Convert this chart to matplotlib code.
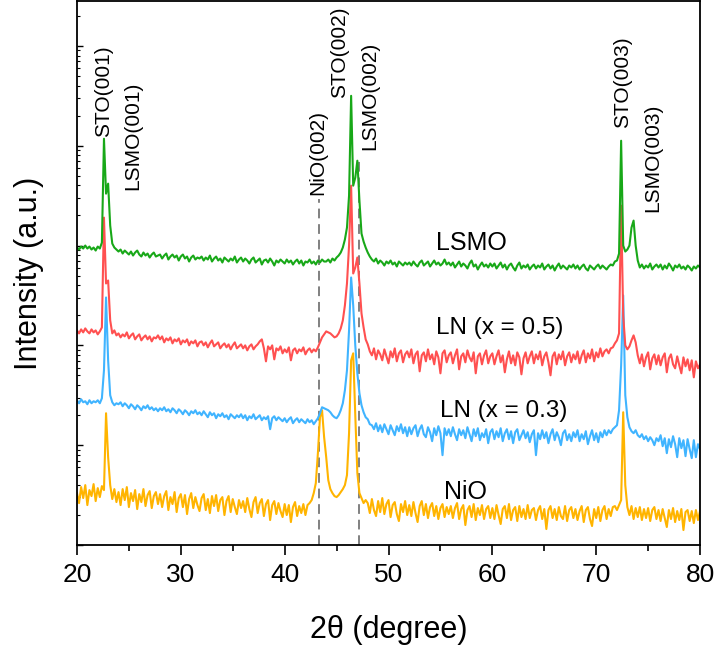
import numpy as np
import matplotlib.pyplot as plt
from matplotlib.ticker import MultipleLocator, LogLocator, NullFormatter

plt.rcParams['font.family'] = ['Liberation Sans', 'DejaVu Sans']

# 2theta grid (degree), 0.2 deg steps
two_theta = np.round(np.arange(20.0, 80.01, 0.2), 1)

# intensities, stored as log10(I) * 100 (stacked offsets included)
lsmo = [
    298, 296, 299, 297, 300, 297, 299, 296, 298, 295, 299, 297, 303, 407, 352, 362, 320, 302, 298, 296,
    294, 296, 292, 295, 293, 291, 294, 290, 293, 295, 291, 289, 293, 290, 292, 288, 291, 293, 289, 290,
    291, 287, 290, 292, 286, 289, 291, 288, 290, 285, 289, 291, 287, 289, 284, 288, 290, 286, 288, 287,
    289, 285, 288, 286, 290, 284, 287, 289, 285, 287, 283, 288, 286, 284, 287, 285, 289, 283, 286, 288,
    284, 287, 285, 282, 286, 288, 283, 285, 287, 281, 285, 286, 283, 287, 284, 280, 285, 283, 286, 284,
    282, 286, 283, 285, 281, 284, 286, 282, 285, 280, 284, 283, 286, 282, 284, 281, 285, 283, 286, 284,
    284, 286, 283, 287, 285, 288, 290, 293, 298, 306, 318, 350, 450, 360, 368, 385, 345, 312, 304, 298,
    293, 289, 286, 284, 287, 282, 285, 283, 280, 284, 282, 285, 281, 283, 279, 284, 282, 280, 283, 281,
    283, 280, 284, 281, 279, 283, 285, 280, 282, 284, 279, 282, 285, 281, 283, 280, 282, 286, 281, 283,
    280, 283, 278, 281, 284, 279, 282, 280, 277, 282, 285, 279, 281, 276, 280, 283, 279, 281, 278, 282,
    279, 282, 277, 280, 283, 278, 281, 276, 280, 282, 278, 275, 280, 283, 277, 280, 278, 281, 276, 279,
    281, 277, 280, 278, 282, 276, 279, 281, 277, 280, 275, 279, 282, 277, 280, 278, 276, 280, 278, 281,
    277, 280, 276, 279, 281, 277, 275, 280, 278, 276, 279, 281, 277, 280, 278, 276, 279, 281, 280, 284,
    285, 292, 405, 300, 294, 296, 300, 318, 325, 300, 285, 278, 281, 277, 280, 278, 282, 276, 279, 281,
    278, 281, 276, 280, 277, 282, 279, 275, 280, 278, 281, 277, 279, 276, 280, 278, 275, 279, 277, 280,
    278,
]
ln05 = [
    215, 212, 216, 213, 217, 214, 212, 216, 213, 215, 211, 214, 218, 328, 262, 265, 225, 212, 215, 210,
    212, 208, 211, 209, 213, 207, 210, 212, 206, 209, 211, 205, 208, 210, 206, 209, 204, 208, 207, 210,
    206, 209, 203, 207, 205, 208, 202, 206, 204, 207, 201, 205, 203, 206, 200, 204, 202, 205, 199, 203,
    204, 200, 203, 198, 202, 205, 199, 201, 203, 197, 200, 202, 198, 201, 196, 200, 203, 197, 199, 201,
    197, 200, 195, 199, 201, 196, 199, 201, 204, 206, 197, 184, 199, 196, 200, 186, 197, 195, 199, 192,
    196, 193, 198, 185, 195, 197, 192, 196, 194, 198, 191, 195, 197, 193, 196, 194, 198, 203, 208, 211,
    214, 213, 212, 210, 208, 209, 212, 217, 225, 240, 262, 300, 360, 272, 278, 288, 262, 232, 218, 206,
    201, 194, 190, 197, 186, 195, 191, 185, 196, 189, 182, 194, 188, 197, 184, 192, 195, 183, 191, 194,
    188, 196, 182, 191, 194, 174, 190, 193, 184, 196, 186, 191, 181, 194, 188, 172, 192, 195, 183, 190,
    193, 182, 190, 196, 176, 189, 192, 183, 195, 188, 184, 193, 172, 189, 192, 181, 190, 195, 182, 189,
    192, 181, 189, 195, 183, 190, 173, 186, 194, 182, 190, 180, 193, 188, 171, 187, 193, 182, 189, 194,
    182, 191, 186, 194, 180, 189, 193, 183, 170, 189, 193, 181, 191, 186, 194, 180, 189, 193, 183, 191,
    186, 194, 182, 190, 195, 183, 192, 187, 196, 184, 193, 188, 197, 189, 194, 196, 192, 197, 198, 202,
    205, 212, 340, 230, 200, 196, 199, 205, 210, 203, 190, 182, 191, 179, 188, 193, 176, 187, 191, 181,
    190, 180, 188, 192, 173, 187, 191, 181, 177, 189, 180, 172, 188, 179, 186, 175, 185, 168, 184, 177,
    181,
]
ln03 = [
    145, 142, 146, 143, 144, 141, 145, 142, 144, 143, 145, 142, 147, 175, 248, 185, 150, 143, 140, 142,
    141, 143, 139, 142, 140, 137, 141, 139, 136, 140, 138, 135, 139, 137, 140, 136, 138, 135, 137, 134,
    137, 135, 138, 134, 136, 133, 137, 135, 132, 136, 134, 131, 135, 133, 130, 134, 132, 135, 131, 133,
    130, 134, 131, 128, 133, 130, 132, 127, 131, 129, 132, 128, 130, 126, 131, 129, 127, 130, 128, 131,
    127, 130, 125, 129, 127, 131, 126, 128, 130, 125, 128, 126, 129, 116, 127, 129, 125, 128, 126, 124,
    127, 123, 126, 128, 122, 125, 127, 123, 126, 124, 122, 126, 123, 125, 121, 124, 127, 132, 138, 137,
    136, 135, 133, 130, 128, 127, 130, 135, 142, 155, 175, 215, 268, 240, 200, 172, 152, 140, 133, 128,
    126, 121, 120, 116, 122, 114, 120, 113, 121, 116, 111, 120, 115, 110, 119, 114, 121, 112, 118, 109,
    118, 111, 117, 120, 109, 116, 120, 111, 108, 118, 113, 104, 117, 110, 119, 112, 90, 117, 110, 116,
    109, 118, 111, 105, 116, 110, 115, 107, 118, 111, 104, 116, 109, 117, 105, 112, 108, 116, 102, 113,
    116, 106, 114, 108, 117, 104, 112, 116, 106, 114, 102, 113, 116, 105, 110, 115, 107, 113, 103, 111,
    115, 90, 112, 106, 115, 107, 113, 102, 111, 116, 105, 113, 108, 100, 112, 115, 105, 111, 104, 113,
    108, 115, 104, 111, 106, 114, 101, 109, 115, 105, 112, 103, 113, 108, 115, 110, 115, 112, 116, 118,
    120, 135, 180, 250, 150, 128, 118, 114, 112, 115, 110, 108, 111, 106, 109, 104, 108, 105, 100, 107,
    104, 110, 99, 107, 92, 106, 98, 109, 101, 88, 107, 97, 105, 89, 106, 96, 87, 105, 88, 101,
    96,
]
nio = [
    52, 42, 58, 47, 60, 40, 55, 49, 61, 44, 57, 48, 59, 55, 132, 88, 60, 46, 56, 43,
    53, 40, 56, 45, 58, 38, 52, 44, 55, 36, 51, 43, 56, 39, 50, 54, 37, 49, 53, 41,
    51, 38, 49, 54, 35, 48, 41, 53, 33, 47, 51, 38, 50, 31, 46, 52, 37, 48, 40, 34,
    47, 51, 35, 46, 32, 49, 39, 50, 34, 45, 48, 30, 44, 49, 33, 46, 38, 31, 45, 37,
    44, 33, 47, 36, 28, 43, 48, 32, 42, 46, 29, 41, 45, 25, 40, 44, 31, 42, 34, 28,
    41, 30, 40, 23, 38, 43, 29, 39, 32, 41, 30, 40, 42, 45, 52, 62, 92, 128, 135, 108,
    88, 65, 56, 52, 49, 48, 50, 53, 56, 60, 70, 112, 185, 192, 130, 72, 52, 47, 42, 45,
    42, 32, 46, 35, 29, 44, 33, 47, 31, 41, 45, 28, 40, 43, 31, 24, 41, 33, 44, 30,
    40, 29, 43, 32, 23, 39, 44, 30, 41, 27, 38, 42, 29, 39, 26, 37, 41, 28, 38, 31,
    39, 27, 37, 42, 26, 36, 40, 20, 35, 39, 28, 41, 25, 37, 30, 40, 26, 36, 39, 27,
    37, 26, 40, 30, 21, 36, 39, 27, 41, 25, 35, 38, 24, 39, 28, 36, 26, 40, 27, 35,
    37, 25, 35, 39, 26, 36, 16, 35, 39, 27, 36, 25, 38, 29, 26, 39, 24, 35, 38, 27,
    36, 25, 34, 39, 23, 35, 38, 26, 19, 36, 27, 38, 24, 35, 39, 26, 36, 29, 38, 39,
    35, 40, 45, 133, 60, 38, 30, 39, 26, 37, 28, 38, 25, 36, 27, 37, 24, 35, 38, 26,
    35, 24, 36, 27, 18, 35, 26, 37, 23, 34, 25, 36, 15, 33, 35, 24, 34, 22, 35, 25,
    34,
]

series_names = ['NiO', 'LN (x = 0.3)', 'LN (x = 0.5)', 'LSMO']
series_colors = ['#FFB400', '#40B4FF', '#FF5050', '#18A818']

peak_labels = ['STO(001)', 'LSMO(001)', 'NiO(002)', 'STO(002)', 'LSMO(002)', 'STO(003)', 'LSMO(003)']
peak_label_x = [22.6, 25.4, 43.2, 45.3, 48.2, 72.5, 75.4]
peak_label_v = [409, 356, 351, 448, 396, 418, 334]

ref_lines_x = [43.3, 47.2]
ref_lines_top = [347, 388]


def to_int(v):
    return 10 ** (np.asarray(v, dtype=float) / 100.0)


fig = plt.figure(figsize=(7.18, 6.56), dpi=100)
ax = fig.add_axes([0.1072, 0.1692, 0.8678, 0.8293])

for xr, top in zip(ref_lines_x, ref_lines_top):
    ax.plot([xr, xr], [1, to_int(top)], color='#808080', lw=1.4, ls=(0, (5, 3)), zorder=1)

for data, name, col in zip([nio, ln03, ln05, lsmo], series_names, series_colors):
    ax.plot(two_theta, to_int(data), color=col, lw=1.5, zorder=2)

# sample names next to the curves
ax.text(54.6, to_int(303), 'LSMO', fontsize=18, va='center', ha='left')
ax.text(54.6, to_int(217), 'LN (x = 0.5)', fontsize=17.5, va='center', ha='left')
ax.text(55.0, to_int(134), 'LN (x = 0.3)', fontsize=17.5, va='center', ha='left')
ax.text(55.3, to_int(53), 'NiO', fontsize=18, va='center', ha='left')

for lab, xl, vl in zip(peak_labels, peak_label_x, peak_label_v):
    ax.text(xl, to_int(vl), lab, rotation=90, fontsize=15, ha='center', va='bottom')

ax.set_yscale('log')
ax.set_xlim(20, 80)
ax.set_ylim(1, 10 ** 5.45)
ax.xaxis.set_major_locator(MultipleLocator(10))
ax.xaxis.set_minor_locator(MultipleLocator(5))
ax.yaxis.set_major_locator(LogLocator(base=10, numticks=20))
ax.yaxis.set_minor_locator(LogLocator(base=10, subs=np.arange(2, 10), numticks=20))
ax.yaxis.set_major_formatter(NullFormatter())
ax.yaxis.set_minor_formatter(NullFormatter())
ax.tick_params(axis='x', which='major', direction='out', length=7, width=1.2, labelsize=19, pad=6)
ax.tick_params(axis='x', which='minor', direction='out', length=4, width=1.2)
ax.tick_params(axis='y', which='major', direction='in', length=4, width=1.0)
ax.tick_params(axis='y', which='minor', direction='in', length=2.5, width=0.8)
for sp in ax.spines.values():
    sp.set_linewidth(1.3)

ax.set_xlabel('2θ (degree)', fontsize=22, labelpad=20)
ax.set_ylabel('Intensity (a.u.)', fontsize=22, labelpad=20)

fig.savefig('out.png', dpi=100)
